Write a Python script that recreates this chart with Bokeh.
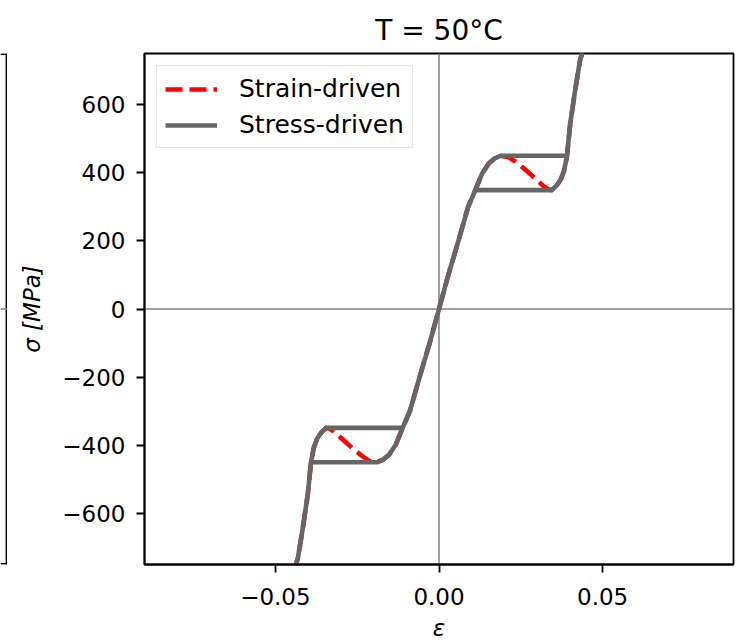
from bokeh.plotting import figure
from bokeh.layouts import row
from bokeh.models import (Range1d, FixedTicker, CustomJSTickFormatter, Span,
                          Legend, LegendItem)
from bokeh.embed import file_html
from bokeh.resources import INLINE

# ---- data ----
x_ticks = [-0.05, 0.0, 0.05]
y_ticks = [-600, -400, -200, 0, 200, 400, 600]

# strain-driven (non-monotone) response
strain_eps = [-0.0445, -0.0437, -0.0431, -0.0416, -0.0401, -0.0391, -0.0382, -0.0372, -0.0360,
              -0.0345, -0.0335, -0.0320, -0.0300, -0.0270, -0.0240, -0.0213, -0.0190, -0.0170,
              -0.0152, -0.0132, -0.0111, -0.0089, -0.0060, -0.0030, 0.0,
              0.0030, 0.0060, 0.0089, 0.0111, 0.0132, 0.0152, 0.0170, 0.0190, 0.0213,
              0.0240, 0.0270, 0.0300, 0.0320, 0.0335, 0.0345, 0.0360, 0.0372, 0.0382,
              0.0391, 0.0401, 0.0416, 0.0431, 0.0437, 0.0445]
strain_sig = [-850, -750, -730, -642, -544, -448, -405, -380, -363,
              -349, -351, -360, -378, -404, -428, -446, -449, -442,
              -427, -398, -349, -300, -202, -105, 0,
              105, 202, 300, 349, 398, 427, 442, 449, 446,
              428, 404, 378, 360, 351, 349, 363, 380, 405,
              448, 544, 642, 730, 750, 850]

# stress-driven response (loading / unloading cycle)
stress_eps = [0.0, 0.0030, 0.0060, 0.0089, 0.0111, 0.0132, 0.0152, 0.0170, 0.0190,
              0.0391, 0.0401, 0.0416, 0.0431, 0.0437, 0.0445,
              0.0437, 0.0431, 0.0416, 0.0401, 0.0391, 0.0382, 0.0372, 0.0360, 0.0345,
              0.0111, 0.0089, 0.0060, 0.0030, 0.0,
              -0.0030, -0.0060, -0.0089, -0.0111, -0.0132, -0.0152, -0.0170, -0.0190,
              -0.0391, -0.0401, -0.0416, -0.0431, -0.0437, -0.0445,
              -0.0437, -0.0431, -0.0416, -0.0401, -0.0391, -0.0382, -0.0372, -0.0360, -0.0345,
              -0.0111, -0.0089, -0.0060, -0.0030, 0.0]
stress_sig = [0, 105, 202, 300, 349, 398, 427, 442, 450,
              450, 544, 642, 730, 750, 850,
              750, 730, 642, 544, 448, 405, 380, 363, 349,
              349, 300, 202, 105, 0,
              -105, -202, -300, -349, -398, -427, -442, -450,
              -450, -544, -642, -730, -750, -850,
              -750, -730, -642, -544, -448, -405, -380, -363, -349,
              -349, -300, -202, -105, 0]

FONT = "DejaVu Sans"

# sliver of the neighbouring subplot's frame at the far left
left = figure(width=7, height=643, x_range=Range1d(0, 7), y_range=Range1d(-750, 750),
              output_backend="svg", toolbar_location=None,
              min_border_left=0, min_border_right=0, min_border_top=53, min_border_bottom=78)
left.axis.visible = False
left.grid.visible = False
left.outline_line_color = None
left.add_layout(Span(location=6, dimension="height", line_color="black", line_width=1.8))
left.add_layout(Span(location=0, dimension="width", line_color="#808080", line_width=1.5))
left.add_layout(Span(location=748, dimension="width", line_color="black", line_width=1.8))
left.add_layout(Span(location=-748, dimension="width", line_color="black", line_width=1.8))

p = figure(width=737, height=643,
           x_range=Range1d(-0.09, 0.09), y_range=Range1d(-750, 750),
           output_backend="svg", toolbar_location=None,
           min_border_left=137, min_border_right=11, min_border_top=53, min_border_bottom=78)

p.background_fill_color = "white"
p.border_fill_color = "white"
p.outline_line_color = "black"
p.outline_line_width = 1.8
p.outline_line_alpha = 1.0
p.grid.visible = False

p.title.text = "T = 50°C"
p.title.align = "center"
p.title.text_font = FONT
p.title.text_font_size = "28px"
p.title.text_font_style = "normal"
p.title.text_color = "black"
p.title.standoff = 13

# zero lines
p.add_layout(Span(location=0, dimension="height", line_color="#808080", line_width=1.5, level="underlay"))
p.add_layout(Span(location=0, dimension="width", line_color="#808080", line_width=1.5, level="underlay"))

r_strain = p.line(strain_eps, strain_sig, line_color="red", line_width=4.6,
                  line_dash="17 7", line_join="round")
r_stress = p.line(stress_eps, stress_sig, line_color="#666666", line_width=4.6,
                  line_join="round")

for ax in (p.xaxis[0], p.yaxis[0]):
    ax.major_tick_out = 8
    ax.major_tick_in = 0
    ax.minor_tick_out = 0
    ax.minor_tick_in = 0
    ax.major_tick_line_width = 1.8
    ax.major_tick_line_color = "black"
    ax.axis_line_width = 1.8
    ax.axis_line_color = "black"
    ax.major_label_text_font = FONT
    ax.major_label_text_font_size = "23px"
    ax.major_label_text_color = "black"
    ax.axis_label_text_font = FONT
    ax.axis_label_text_font_size = "23px"
    ax.axis_label_text_font_style = "italic"
    ax.axis_label_text_color = "black"

p.xaxis[0].ticker = FixedTicker(ticks=x_ticks)
p.yaxis[0].ticker = FixedTicker(ticks=y_ticks)
p.xaxis[0].formatter = CustomJSTickFormatter(code="return tick.toFixed(2).replace('-', '\u2212');")
p.yaxis[0].formatter = CustomJSTickFormatter(
    code="return (tick < 0 ? '\u2212' : '') + Math.abs(tick).toFixed(0);")
p.xaxis[0].major_label_standoff = 15
p.yaxis[0].major_label_standoff = 11
p.xaxis[0].axis_label = "ε"
p.yaxis[0].axis_label = "σ [MPa]"
p.xaxis[0].axis_label_standoff = 7
p.yaxis[0].axis_label_standoff = 14

legend = Legend(items=[LegendItem(label="Strain-driven", renderers=[r_strain]),
                       LegendItem(label="Stress-driven", renderers=[r_stress])],
                location="top_left")
legend.margin = 12
legend.padding = 8
legend.spacing = 7
legend.label_standoff = 22
legend.glyph_width = 52
legend.glyph_height = 20
legend.label_height = 20
legend.label_text_font = FONT
legend.label_text_font_size = "25px"
legend.label_text_color = "black"
legend.border_line_color = "#cccccc"
legend.border_line_width = 1.5
legend.background_fill_alpha = 0.8
p.add_layout(legend)

layout = row(left, p, spacing=0)
open("out.html", "w").write(file_html(layout, INLINE))
